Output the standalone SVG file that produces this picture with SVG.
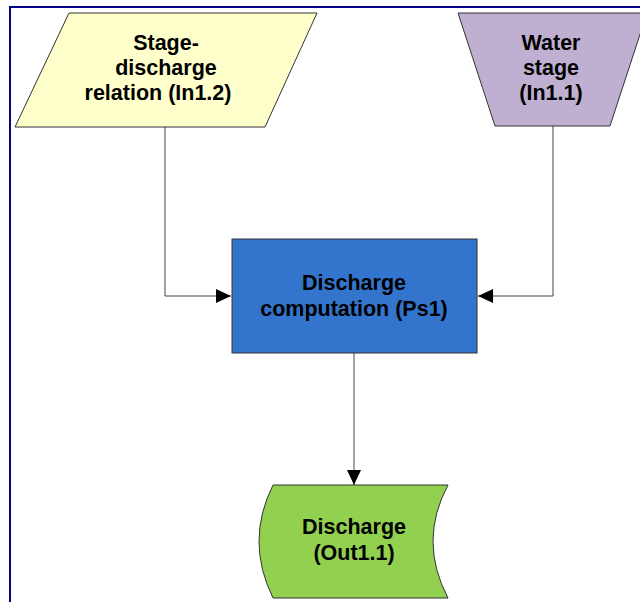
<svg xmlns="http://www.w3.org/2000/svg" width="640" height="602" viewBox="0 0 640 602">
<defs>
<style>
.shape{stroke:#333;stroke-width:1}
.lbl{font-family:"Liberation Sans",Arial,sans-serif;font-weight:bold;font-size:21.5px;fill:#000;text-anchor:middle}
.conn{fill:none;stroke:#444;stroke-width:1}
</style>
<marker id="arr" viewBox="0 0 15 14" refX="15" refY="7" markerWidth="15" markerHeight="14" markerUnits="userSpaceOnUse" orient="auto">
<path d="M0,0 L15,7 L0,14 Z" fill="#000"/>
</marker>
</defs>
<rect x="0" y="0" width="640" height="602" fill="#fff"/>
<path d="M10,602 L10,7 L640,7" fill="none" stroke="#00008B" stroke-width="2"/>
<g id="connectors">
<path class="conn" d="M165,127 L165,296 L231,296" marker-end="url(#arr)"/>
<path class="conn" d="M553,126 L553,296 L478,296" marker-end="url(#arr)"/>
<path class="conn" d="M354,353 L354,485" marker-end="url(#arr)"/>
</g>
<g id="in12">
<path class="shape" d="M69,13 L317,13 L265,127 L15,127 Z" fill="#FFFFCC"/>
<text class="lbl" x="166" y="50">Stage-</text>
<text class="lbl" x="166" y="75">discharge</text>
<text class="lbl" x="158" y="100">relation (In1.2)</text>
</g>
<g id="in11">
<path class="shape" d="M458,13 L647,13 L610,126 L495,126 Z" fill="#BFB0D2"/>
<text class="lbl" x="551" y="50">Water</text>
<text class="lbl" x="551" y="75">stage</text>
<text class="lbl" x="551" y="100">(In1.1)</text>
</g>
<g id="ps1">
<rect class="shape" x="232" y="239" width="245" height="114" fill="#3375CC"/>
<text class="lbl" x="354" y="290">Discharge</text>
<text class="lbl" x="354" y="316">computation (Ps1)</text>
</g>
<g id="out11">
<path class="shape" d="M273,485 L448,485 Q418,541 448,598 L273,598 Q245,541 273,485 Z" fill="#92D050"/>
<text class="lbl" x="354" y="534">Discharge</text>
<text class="lbl" x="354" y="560">(Out1.1)</text>
</g>
</svg>
